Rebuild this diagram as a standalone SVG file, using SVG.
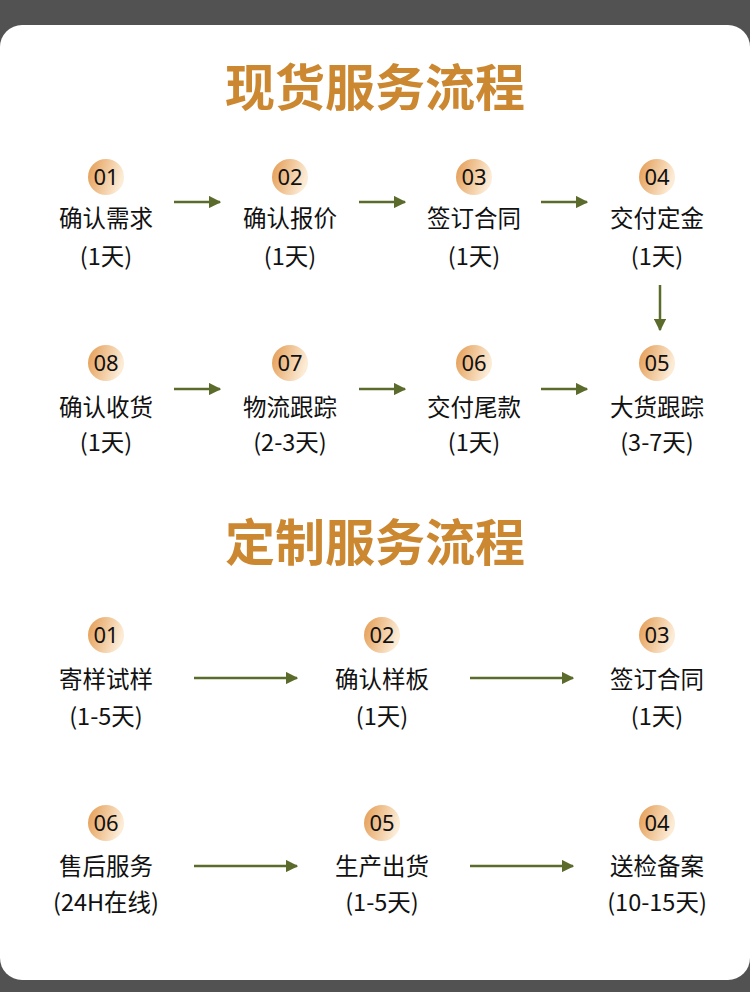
<svg xmlns="http://www.w3.org/2000/svg" width="750" height="992" viewBox="0 0 750 992">
<defs>
<linearGradient id="g" x1="0" y1="0" x2="1" y2="0.3">
<stop offset="0" stop-color="#E39A50"/>
<stop offset="1" stop-color="#FCEBD5"/>
</linearGradient>
<marker id="ah" viewBox="0 0 10 10" refX="9" refY="5" markerWidth="5" markerHeight="5" orient="auto" markerUnits="strokeWidth">
<path d="M0,0 L10,5 L0,10 Z" fill="#5B6B2B"/>
</marker>
<style>
.t{font-family:"Noto Sans CJK SC","Noto Sans",sans-serif;font-size:50px;font-weight:bold;fill:#CC8831;text-anchor:middle}
.n{font-family:"Noto Sans","Noto Sans CJK SC",sans-serif;font-size:22px;fill:#111;text-anchor:middle}
.l{font-family:"Noto Sans CJK SC",sans-serif;font-size:23.5px;fill:#111;text-anchor:middle}
.c{fill:url(#g)}
.a{stroke:#5B6B2B;stroke-width:2.5;fill:none;marker-end:url(#ah)}
</style>
</defs>
<rect x="0" y="0" width="750" height="992" fill="#525252"/>
<rect x="0" y="25" width="750" height="955" rx="22" fill="#fff"/>
<text class="t" x="375" y="106">现货服务流程</text>
<text class="t" x="375" y="561">定制服务流程</text>

<g id="connectors">
<line class="a" x1="174" y1="202" x2="220" y2="202"/>
<line class="a" x1="359" y1="202" x2="405" y2="202"/>
<line class="a" x1="541" y1="202" x2="587" y2="202"/>
<line class="a" x1="660" y1="285" x2="660" y2="330"/>
<line class="a" x1="174" y1="389" x2="220" y2="389"/>
<line class="a" x1="359" y1="389" x2="405" y2="389"/>
<line class="a" x1="541" y1="389" x2="587" y2="389"/>
<line class="a" x1="194" y1="678" x2="297" y2="678"/>
<line class="a" x1="470" y1="678" x2="573" y2="678"/>
<line class="a" x1="194" y1="866" x2="297" y2="866"/>
<line class="a" x1="470" y1="866" x2="573" y2="866"/>
</g>

<g id="s1"><circle class="c" cx="106" cy="177" r="18"/><text class="n" x="106" y="185">01</text><text class="l" x="106" y="227">确认需求</text><text class="l" x="106" y="265">(1天)</text></g>
<g id="s2"><circle class="c" cx="290" cy="177" r="18"/><text class="n" x="290" y="185">02</text><text class="l" x="290" y="227">确认报价</text><text class="l" x="290" y="265">(1天)</text></g>
<g id="s3"><circle class="c" cx="474" cy="177" r="18"/><text class="n" x="474" y="185">03</text><text class="l" x="474" y="227">签订合同</text><text class="l" x="474" y="265">(1天)</text></g>
<g id="s4"><circle class="c" cx="657" cy="177" r="18"/><text class="n" x="657" y="185">04</text><text class="l" x="657" y="227">交付定金</text><text class="l" x="657" y="265">(1天)</text></g>
<g id="s5"><circle class="c" cx="657" cy="363" r="18"/><text class="n" x="657" y="371">05</text><text class="l" x="657" y="416">大货跟踪</text><text class="l" x="657" y="451">(3-7天)</text></g>
<g id="s6"><circle class="c" cx="474" cy="363" r="18"/><text class="n" x="474" y="371">06</text><text class="l" x="474" y="416">交付尾款</text><text class="l" x="474" y="451">(1天)</text></g>
<g id="s7"><circle class="c" cx="290" cy="363" r="18"/><text class="n" x="290" y="371">07</text><text class="l" x="290" y="416">物流跟踪</text><text class="l" x="290" y="451">(2-3天)</text></g>
<g id="s8"><circle class="c" cx="106" cy="363" r="18"/><text class="n" x="106" y="371">08</text><text class="l" x="106" y="416">确认收货</text><text class="l" x="106" y="451">(1天)</text></g>

<g id="c1"><circle class="c" cx="106" cy="635" r="18"/><text class="n" x="106" y="643">01</text><text class="l" x="106" y="688">寄样试样</text><text class="l" x="106" y="725">(1-5天)</text></g>
<g id="c2"><circle class="c" cx="382" cy="635" r="18"/><text class="n" x="382" y="643">02</text><text class="l" x="382" y="688">确认样板</text><text class="l" x="382" y="725">(1天)</text></g>
<g id="c3"><circle class="c" cx="657" cy="635" r="18"/><text class="n" x="657" y="643">03</text><text class="l" x="657" y="688">签订合同</text><text class="l" x="657" y="725">(1天)</text></g>
<g id="c4"><circle class="c" cx="657" cy="823" r="18"/><text class="n" x="657" y="831">04</text><text class="l" x="657" y="875">送检备案</text><text class="l" x="657" y="911">(10-15天)</text></g>
<g id="c5"><circle class="c" cx="382" cy="823" r="18"/><text class="n" x="382" y="831">05</text><text class="l" x="382" y="875">生产出货</text><text class="l" x="382" y="911">(1-5天)</text></g>
<g id="c6"><circle class="c" cx="106" cy="823" r="18"/><text class="n" x="106" y="831">06</text><text class="l" x="106" y="875">售后服务</text><text class="l" x="106" y="911">(24H在线)</text></g>
</svg>
